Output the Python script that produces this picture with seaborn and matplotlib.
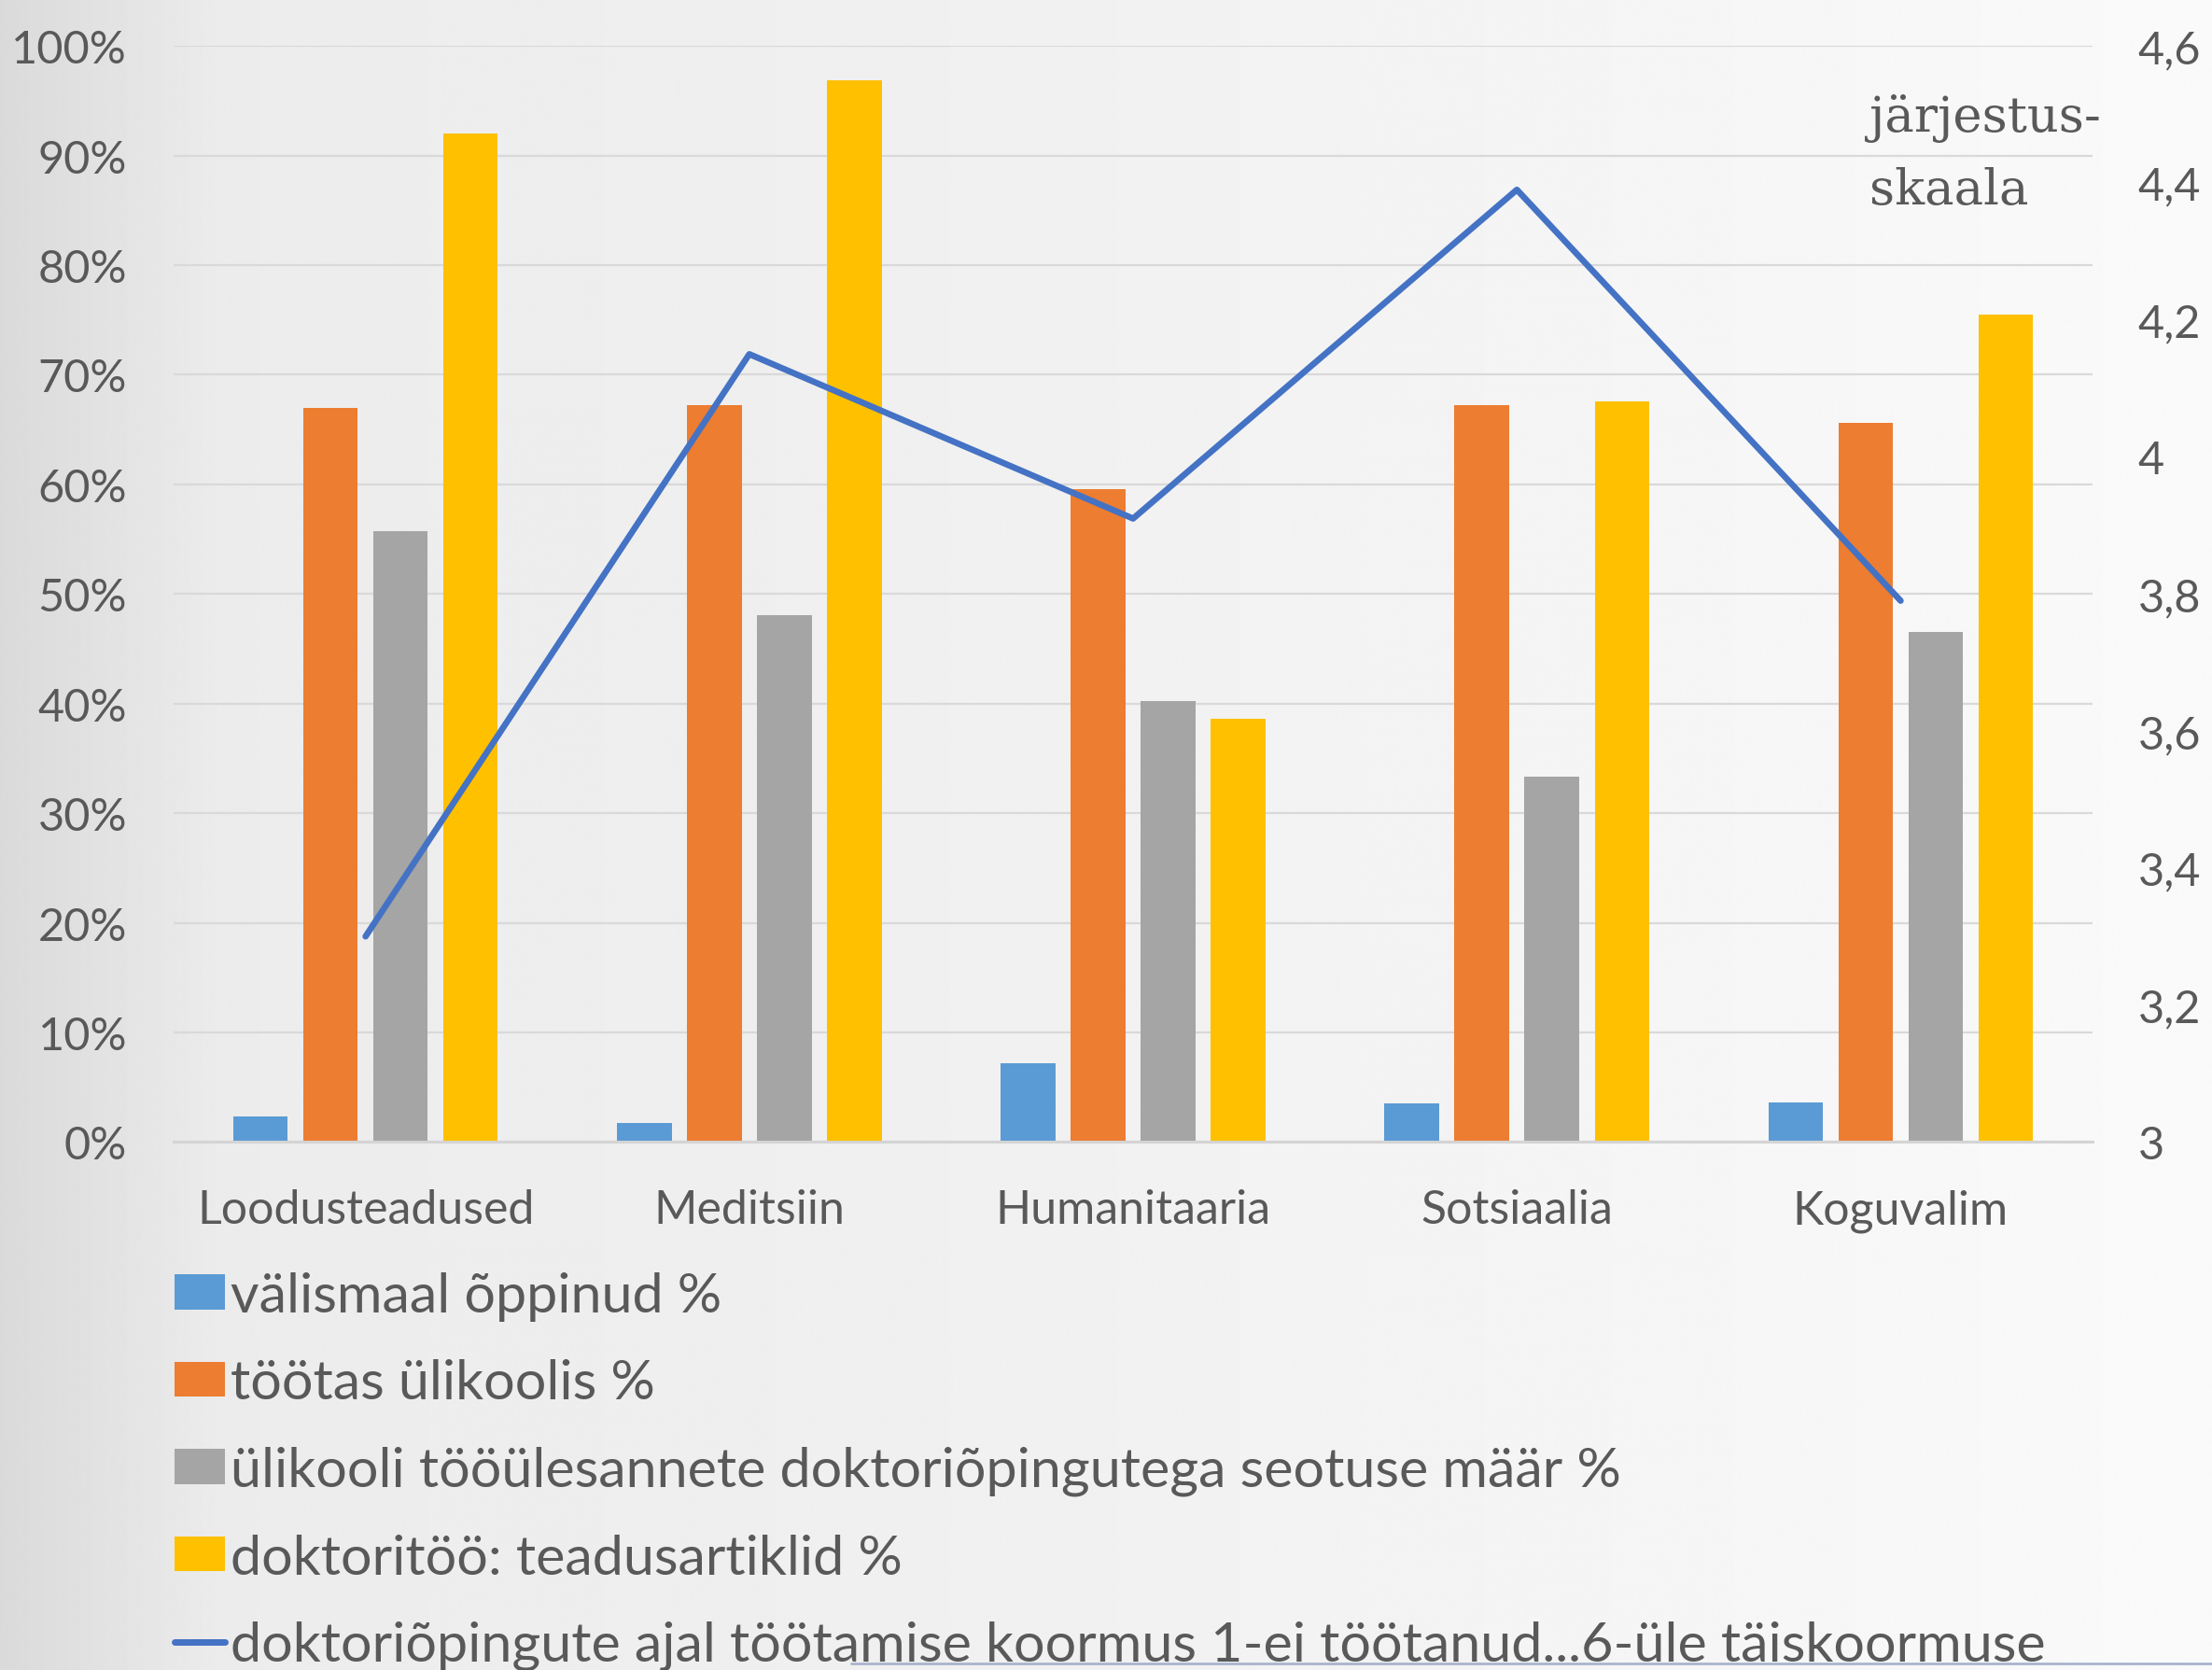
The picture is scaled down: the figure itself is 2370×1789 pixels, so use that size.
import numpy as np
import pandas as pd
import seaborn as sns
import matplotlib.pyplot as plt
from matplotlib.lines import Line2D
from matplotlib.ticker import FuncFormatter, MultipleLocator

# andmed
valdkonnad = ["Loodusteadused", "Meditsiin", "Humanitaaria", "Sotsiaalia", "Koguvalim"]
valismaal = [2.3, 1.7, 7.2, 3.5, 3.6]
tootas_ylikoolis = [67.0, 67.2, 59.6, 67.2, 65.6]
seotus = [55.7, 48.1, 40.2, 33.3, 46.5]
artiklid = [92.0, 96.9, 38.6, 67.6, 75.5]
koormus = [3.30, 4.15, 3.91, 4.39, 3.79]

nimed = ["välismaal õppinud %",
         "töötas ülikoolis %",
         "ülikooli tööülesannete doktoriõpingutega seotuse määr %",
         "doktoritöö: teadusartiklid %"]
joone_nimi = "doktoriõpingute ajal töötamise koormus 1-ei töötanud...6-üle täiskoormuse"
varvid = ["#5B9BD5", "#ED7D31", "#A5A5A5", "#FFC000"]
joone_varv = "#4472C4"
tekst = "#595959"

df = pd.DataFrame({
    "valdkond": valdkonnad * 4,
    "näitaja": np.repeat(nimed, len(valdkonnad)),
    "väärtus": valismaal + tootas_ylikoolis + seotus + artiklid,
})

sns.set_style("white")
plt.rcParams['font.family'] = ['Lato', 'DejaVu Sans']

fig = plt.figure(figsize=(23.7, 17.9), dpi=100)

# taust - hall gradient vasakult paremale
bg = fig.add_axes([0, 0, 1, 1], zorder=-10)
grad = np.interp(np.linspace(0, 1, 800), [0, .03, .065, .1, .5, 1],
                 [0.855, 0.875, 0.9, 0.925, 0.945, 0.98])
bg.imshow(np.tile(grad, (2, 1)), cmap='gray', vmin=0, vmax=1, aspect='auto', extent=[0, 1, 0, 1])
bg.axis('off')

ax = fig.add_axes([0.0785, 0.316, 0.8675, 0.656])
ax.patch.set_alpha(0)
sns.barplot(data=df, x="valdkond", y="väärtus", hue="näitaja", palette=varvid,
            saturation=1, width=0.73, gap=0.22, linewidth=0, errorbar=None, ax=ax)
ax.set_ylim(0, 100)
ax.yaxis.set_major_locator(MultipleLocator(10))
ax.yaxis.set_major_formatter(FuncFormatter(lambda v, p: f"{v:.0f}%"))
ax.grid(axis='y', color='#D9D9D9', lw=1.6)
ax.set_axisbelow(True)
for s in ['top', 'left', 'right']:
    ax.spines[s].set_visible(False)
ax.spines['bottom'].set_color('#D4D4D4')
ax.spines['bottom'].set_linewidth(2.2)
ax.set_xlabel('')
ax.set_ylabel('')
ax.tick_params(axis='y', length=0, pad=36, labelsize=35, labelcolor=tekst)
ax.tick_params(axis='x', length=0, pad=36, labelsize=36, labelcolor=tekst)

ax2 = ax.twinx()
sns.lineplot(x=np.arange(len(valdkonnad)), y=koormus, ax=ax2, color=joone_varv,
             lw=4.8, solid_capstyle='round')
ax2.set_ylim(3, 4.6)
ax2.yaxis.set_major_locator(MultipleLocator(0.2))
ax2.yaxis.set_major_formatter(FuncFormatter(lambda v, p: f"{v:.1f}".rstrip('0').rstrip('.').replace('.', ',')))
ax2.tick_params(axis='y', length=0, pad=35, labelsize=35, labelcolor=tekst)
for s in ax2.spines.values():
    s.set_visible(False)
ax2.grid(False)
ax.set_xlim(-0.5, len(valdkonnad) - 0.5)

# legend
h, l = ax.get_legend_handles_labels()
ax.get_legend().remove()
lh = Line2D([0], [0], color=joone_varv, lw=5, solid_capstyle='round')
fig.legend(h + [lh], nimed + [joone_nimi], loc='upper left', bbox_to_anchor=(0.079, 0.2385),
           frameon=False, fontsize=42.7, handlelength=0.9, handleheight=0.6,
           handletextpad=0.1, labelspacing=0.68, borderpad=0, borderaxespad=0,
           labelcolor=tekst)

fig.text(2003 / 2370, 1 - 141 / 1790, "järjestus-", family='DejaVu Serif', fontsize=38,
         color=tekst, va='baseline')
fig.text(2003 / 2370, 1 - 219 / 1790, "skaala", family='DejaVu Serif', fontsize=38,
         color=tekst, va='baseline')

fig.add_artist(Line2D([912 / 2370, 1], [1 - 1783 / 1790] * 2, color='#A9B4CF', lw=2))

fig.savefig("out.png", dpi=100)
